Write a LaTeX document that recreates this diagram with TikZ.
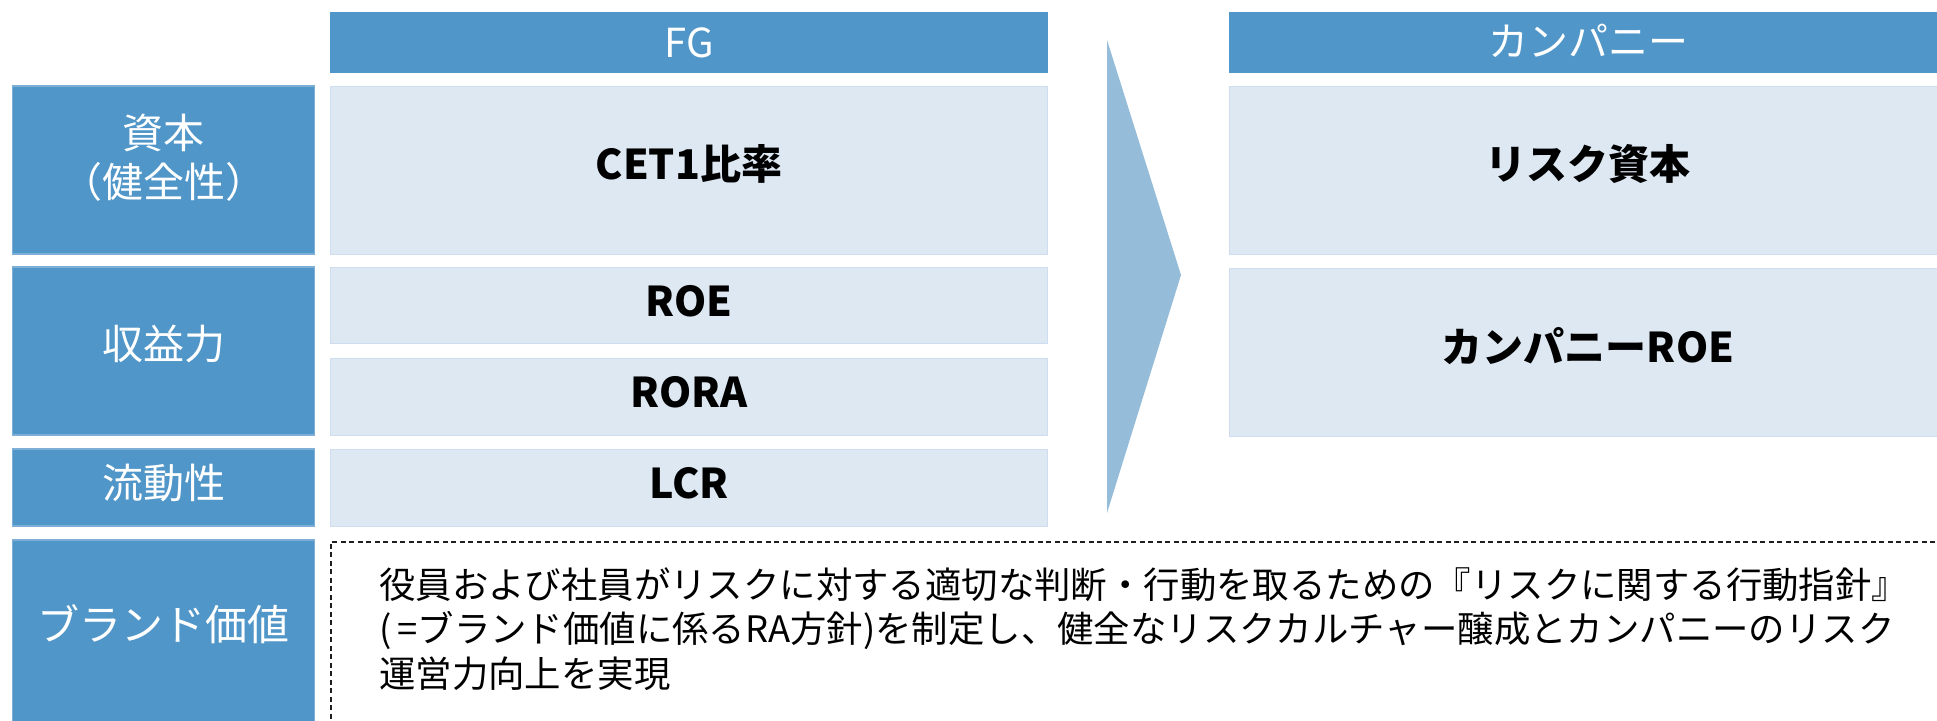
\documentclass[tikz,border=0pt]{standalone}
\usepackage{fontspec}
\setmainfont{Noto Sans CJK JP}
\definecolor{myblue}{RGB}{80,150,200}
\definecolor{mybluebd}{RGB}{125,175,215}
\definecolor{mylight}{RGB}{221,232,243}
\definecolor{mylightbd}{RGB}{206,222,238}
\definecolor{arrowc}{RGB}{149,189,217}
\definecolor{dashc}{RGB}{30,30,30}
\newcommand\upt[2][6pt]{\raisebox{#1}[\height][\depth]{#2}}
\tikzset{
  darkbox/.style={fill=myblue, draw=mybluebd, line width=1.5pt, minimum width=302pt, inner sep=0pt, text=white, align=center, font=\fontsize{41}{46}\selectfont},
  hdrbox/.style={fill=myblue, draw=none, minimum width=718pt, minimum height=61pt, inner sep=0pt, text=white, font=\fontsize{40}{44}\selectfont},
  lightbox/.style={fill=mylight, draw=mylightbd, line width=1pt, minimum width=717pt, inner sep=0pt, text=black, font=\fontsize{41}{44}\selectfont\bfseries},
  whitetxt/.style={text=white, inner sep=0pt, font=\fontsize{42}{46}\selectfont},
  dashbox/.style={draw=dashc, line width=1.5pt, dash pattern=on 5pt off 3.5pt, minimum width=1640pt, minimum height=220pt, inner sep=0pt},
  bodytxt/.style={text=black, inner sep=0pt, align=left, font=\fontsize{36.4}{44.5}\selectfont}
}
\begin{document}
\begin{tikzpicture}[x=1pt,y=-1pt]
\useasboundingbox (0,0) rectangle (1937,720);
\clip (0,0) rectangle (1937,720);
% left column
\node[darkbox, minimum height=168pt] (cap) at (163.5,170) {\upt[7pt]{\begin{tabular}{@{}c@{}}資本\\（健全性）\end{tabular}}};
\node[darkbox, minimum height=168pt] (prof) at (163.5,351) {\upt[7pt]{収益力}};
\node[darkbox, minimum height=77pt] (liq) at (163.5,487.5) {\upt[4pt]{流動性}};
\node[darkbox, minimum height=200pt] (brand) at (163.5,640) {};
\node[whitetxt] (brandlbl) at (163.5,624) {ブランド価値};
% FG column
\node[hdrbox] (fg) at (689,42.5) {FG};
\node[lightbox, minimum height=168pt] (cet) at (689,170) {\upt{CET1比率}};
\node[lightbox, minimum height=76pt] (roe) at (689,305) {\upt[4pt]{ROE}};
\node[lightbox, minimum height=77pt] (rora) at (689,396.5) {\upt[4pt]{RORA}};
\node[lightbox, minimum height=77pt] (lcr) at (689,487.5) {\upt[4pt]{LCR}};
% arrow
\fill[arrowc] (1107,40) -- (1181,275) -- (1107,513) -- cycle;
% company column
\node[hdrbox] (co) at (1588,42.5) {\upt[2pt]{カンパニー}};
\node[lightbox, minimum height=168pt] (rc) at (1588,170) {\upt{リスク資本}};
\node[lightbox, minimum height=168pt] (croe) at (1588,352) {\upt{カンパニーROE}};
% dashed box
\node[dashbox, anchor=north west] (dash) at (330,541) {};
\node[bodytxt, anchor=west] (body) at (379,629) {役員および社員がリスクに対する適切な判断・行動を取るための『リスクに関する行動指針』\\(\,=ブランド価値に係るRA方針)を制定し、健全なリスクカルチャー醸成とカンパニーのリスク\\運営力向上を実現};
\end{tikzpicture}
\end{document}
